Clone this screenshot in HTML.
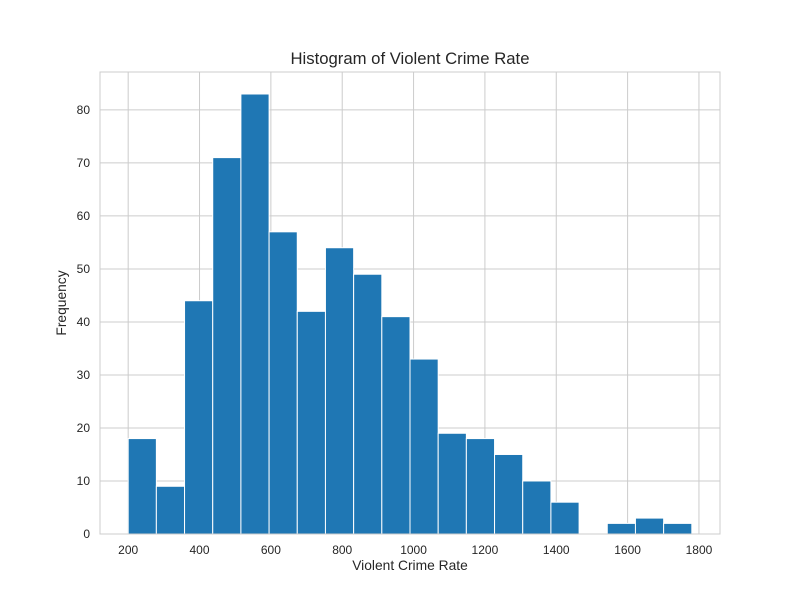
<!DOCTYPE html>
<html><head><meta charset="utf-8"><style>
body{margin:0;background:#fff;}
svg text{font-family:"Liberation Sans",sans-serif;fill:#262626;}
</style></head><body>
<svg id="chart" width="800" height="600">
<rect x="0" y="0" width="800" height="600" fill="#fff"/>
<g id="grid"></g>
<g id="bars"></g>
<rect x="100" y="72" width="620" height="462" fill="none" stroke="#cccccc" stroke-width="1"/>
<g id="ticks"></g>
<text x="410" y="64" text-anchor="middle" font-size="16.7">Histogram of Violent Crime Rate</text>
<text x="410" y="570" text-anchor="middle" font-size="13.8">Violent Crime Rate</text>
<text transform="translate(66,303) rotate(-90)" text-anchor="middle" font-size="13.8">Frequency</text>
</svg>
<script>
const binStart = 200;
const binWidth = 79;
const counts = [18, 9, 44, 71, 83, 57, 42, 54, 49, 41, 33, 19, 18, 15, 10, 6, 0, 2, 3, 2];
const xTicks = [200, 400, 600, 800, 1000, 1200, 1400, 1600, 1800];
const yTicks = [0, 10, 20, 30, 40, 50, 60, 70, 80];

const X0=100, X1=720, Y0=534, Y1=72;
const dataMax = binStart + binWidth*counts.length;
const xmin = binStart - (dataMax-binStart)*0.05, xmax = dataMax + (dataMax-binStart)*0.05;
const ymax = Math.max(...counts)*1.05;
const sx = v => X0 + (v-xmin)/(xmax-xmin)*(X1-X0);
const sy = v => Y0 - v/ymax*(Y0-Y1);
const NS="http://www.w3.org/2000/svg";
const grid=document.getElementById('grid'), bars=document.getElementById('bars'), ticks=document.getElementById('ticks');
function mk(tag, attrs, parent){const e=document.createElementNS(NS,tag);for(const k in attrs)e.setAttribute(k,attrs[k]);parent.appendChild(e);return e;}
xTicks.forEach(t=>{
  const l=mk('line',{x1:sx(t),x2:sx(t),y1:Y1,y2:Y0,stroke:'#cccccc','stroke-width':1},grid);
  
  
  const tx=mk('text',{x:sx(t),y:Y0+20,'text-anchor':'middle','font-size':12},ticks);
  tx.textContent=t;
  
  
});
yTicks.forEach(t=>{
  const l=mk('line',{x1:X0,x2:X1,y1:sy(t),y2:sy(t),stroke:'#cccccc','stroke-width':1},grid);
  
  
  const tx=mk('text',{x:X0-10,y:sy(t)+4,'text-anchor':'end','font-size':12},ticks);
  tx.textContent=t;
  
  
});
counts.forEach((c,i)=>{
  if(c<=0) return;
  const a=sx(binStart+i*binWidth), b=sx(binStart+(i+1)*binWidth);
  const r=mk('rect',{x:a,y:sy(c),width:b-a,height:Y0-sy(c),fill:'#1f77b4',stroke:'#ffffff','stroke-width':1},bars);
  
  
});
</script>
</body></html>
